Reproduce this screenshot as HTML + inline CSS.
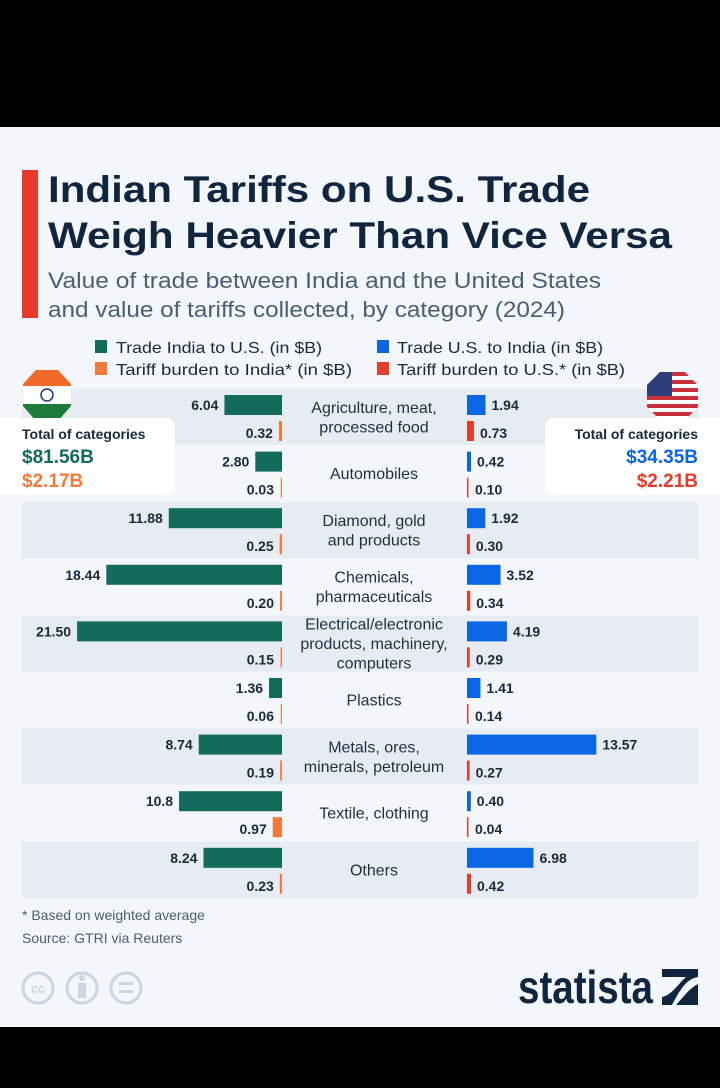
<!DOCTYPE html>
<html><head><meta charset="utf-8"><style>
body{margin:0;background:#000;}
svg{display:block;font-family:"Liberation Sans",sans-serif;}
</style></head><body>
<svg id="chart" width="720" height="1088" viewBox="0 0 720 1088">
<rect x="0" y="0" width="720" height="1088" fill="#000"/>
<rect x="0" y="127" width="720" height="900" fill="#f3f6fa"/>
<rect x="22" y="170" width="16" height="148" fill="#e8392b"/>
<text x="48" y="202" font-size="37" font-weight="bold" fill="#10263f" textLength="542" lengthAdjust="spacingAndGlyphs">Indian Tariffs on U.S. Trade</text>
<text x="48" y="248" font-size="37" font-weight="bold" fill="#10263f" textLength="624" lengthAdjust="spacingAndGlyphs">Weigh Heavier Than Vice Versa</text>
<text x="48" y="288" font-size="22" fill="#4b5e72" textLength="553" lengthAdjust="spacingAndGlyphs">Value of trade between India and the United States</text>
<text x="48" y="317" font-size="22" fill="#4b5e72" textLength="517" lengthAdjust="spacingAndGlyphs">and value of tariffs collected, by category (2024)</text>
<g font-size="16" fill="#1a2a3a">
<rect x="95" y="340" width="12" height="13" fill="#136b5e"/>
<text x="116" y="353" textLength="206" lengthAdjust="spacingAndGlyphs">Trade India to U.S. (in $B)</text>
<rect x="377" y="340" width="12" height="13" fill="#0b66e4"/>
<text x="397" y="353" textLength="206" lengthAdjust="spacingAndGlyphs">Trade U.S. to India (in $B)</text>
<rect x="95" y="362" width="12" height="13" fill="#f47a3a"/>
<text x="116" y="375" textLength="236" lengthAdjust="spacingAndGlyphs">Tariff burden to India* (in $B)</text>
<rect x="377" y="362" width="12" height="13" fill="#e43d2b"/>
<text x="397" y="375" textLength="228" lengthAdjust="spacingAndGlyphs">Tariff burden to U.S.* (in $B)</text>
</g>
<g id="rows"></g>
<g>
<clipPath id="oct1"><polygon points="36,370 58,370 71,384 71,406 58,421 36,421 23,406 23,384"/></clipPath>
<g clip-path="url(#oct1)"><rect x="20" y="368" width="55" height="18" fill="#f26a2a"/><rect x="20" y="386" width="55" height="18" fill="#fff"/><rect x="20" y="404" width="55" height="20" fill="#1c7a3a"/><circle cx="47" cy="395" r="6" fill="none" stroke="#1d3a8a" stroke-width="1.5"/></g>
</g>
<g>
<clipPath id="oct2"><polygon points="660,372 685,372 698,385 698,407 685,420 660,420 647,407 647,385"/></clipPath>
<g clip-path="url(#oct2)" id="usflag"><rect x="645" y="370" width="55" height="52" fill="#fff"/></g>
</g>
<g>
<rect x="-10" y="418" width="185" height="77" rx="8" fill="#fff"/>
<text x="22" y="439" font-size="14" font-weight="bold" fill="#1a2a3a">Total of  categories</text>
<text x="22" y="463" font-size="19" font-weight="bold" fill="#136b5e">$81.56B</text>
<text x="22" y="487" font-size="19" font-weight="bold" fill="#f47a3a">$2.17B</text>
</g>
<g>
<rect x="545" y="418" width="190" height="77" rx="8" fill="#fff"/>
<text x="698" y="439" font-size="14" font-weight="bold" fill="#1a2a3a" text-anchor="end">Total of  categories</text>
<text x="698" y="463" font-size="19" font-weight="bold" fill="#0b66e4" text-anchor="end">$34.35B</text>
<text x="698" y="487" font-size="19" font-weight="bold" fill="#e43d2b" text-anchor="end">$2.21B</text>
</g>
<text x="22" y="920" font-size="14" fill="#4b5e72">* Based on weighted average</text>
<text x="22" y="943" font-size="14" fill="#4b5e72">Source: GTRI via Reuters</text>
<g fill="none" stroke="#cdd5de" stroke-width="3">
<circle cx="38" cy="988" r="15"/><text x="38" y="993" font-size="13" font-weight="bold" fill="#cdd5de" stroke="none" text-anchor="middle">cc</text>
<circle cx="82" cy="988" r="15"/><circle cx="82" cy="978" r="3" fill="#cdd5de" stroke="none"/><rect x="78" y="983" width="8" height="15" fill="#cdd5de" stroke="none"/>
<circle cx="126" cy="988" r="15"/><rect x="119" y="982" width="14" height="3" fill="#cdd5de" stroke="none"/><rect x="119" y="990" width="14" height="3" fill="#cdd5de" stroke="none"/>
</g>
<g>
<text x="518" y="1003" font-size="46" font-weight="bold" fill="#10263f" textLength="135" lengthAdjust="spacingAndGlyphs">statista</text>
<path d="M662 969 H698 V977 C686 979 680 990 672 1005 H662 V997 C672 995 678 984 686 977 H662 Z M698 984 V1005 H676 C684 996 690 988 698 984 Z" fill="#10263f"/>
</g>
</svg>
<script>
const categories = [["Agriculture, meat,","processed food"],["Automobiles"],["Diamond, gold","and products"],["Chemicals,","pharmaceuticals"],["Electrical/electronic","products, machinery,","computers"],["Plastics"],["Metals, ores,","minerals, petroleum"],["Textile, clothing"],["Others"]];
const tradeIndia = [6.04, 2.80, 11.88, 18.44, 21.50, 1.36, 8.74, 10.8, 8.24];
const tradeIndiaLabels = ["6.04","2.80","11.88","18.44","21.50","1.36","8.74","10.8","8.24"];
const tariffIndia = [0.32, 0.03, 0.25, 0.20, 0.15, 0.06, 0.19, 0.97, 0.23];
const tradeUS = [1.94, 0.42, 1.92, 3.52, 4.19, 1.41, 13.57, 0.40, 6.98];
const tariffUS = [0.73, 0.10, 0.30, 0.34, 0.29, 0.14, 0.27, 0.04, 0.42];
const NS = "http://www.w3.org/2000/svg";
const g = document.getElementById("rows");
const scale = v => v * 9.53;
const leftAxis = 282, rightAxis = 467, top0 = 389, rowH = 56.6;
function mk(tag, attrs, text){const e=document.createElementNS(NS,tag);for(const k in attrs)e.setAttribute(k,attrs[k]);if(text!==undefined)e.textContent=text;g.appendChild(e);return e;}
categories.forEach((cat,i)=>{
  const y = top0 + i*rowH;
  if(i%2===0){const b=mk("rect",{x:22,y:y,width:676,height:56,fill:"#e7ecf3"});
    
    }
  const wT = Math.max(scale(tradeIndia[i]),1);
  const r1=mk("rect",{x:leftAxis-wT,y:y+6,width:wT,height:20,fill:"#136b5e"});
  
  
  const t1=mk("text",{x:leftAxis-wT-6,y:y+21,"font-size":14,"font-weight":"bold",fill:"#1a2a3a","text-anchor":"end"},tradeIndiaLabels[i]);
  
  
  const wt = Math.max(scale(tariffIndia[i]),1.2);
  const r2=mk("rect",{x:leftAxis-wt,y:y+32,width:wt,height:20,fill:"#f47a3a"});
  
  
  const t2=mk("text",{x:leftAxis-Math.max(wt,2)-6,y:y+49,"font-size":14,"font-weight":"bold",fill:"#1a2a3a","text-anchor":"end"},tariffIndia[i].toFixed(2));
  
  
  const wU = Math.max(scale(tradeUS[i]),1.5);
  const r3=mk("rect",{x:rightAxis,y:y+6,width:wU,height:20,fill:"#0b66e4"});
  
  
  const t3=mk("text",{x:rightAxis+wU+6,y:y+21,"font-size":14,"font-weight":"bold",fill:"#1a2a3a"},tradeUS[i].toFixed(2));
  
  
  const wu = Math.max(scale(tariffUS[i]),1.2);
  const r4=mk("rect",{x:rightAxis,y:y+32,width:Math.max(wu,1.5),height:20,fill:"#e43d2b"});
  
  
  const t4=mk("text",{x:rightAxis+Math.max(wu,2)+6,y:y+49,"font-size":14,"font-weight":"bold",fill:"#1a2a3a"},tariffUS[i].toFixed(2));
  
  
  const n=cat.length, lh=19.5, cy=y+28;
  cat.forEach((line,j)=>{
    const c=mk("text",{x:374,y:cy-(n-1)*lh/2+j*lh+5.5,"font-size":16,fill:"#1f2f40","text-anchor":"middle"},line);
    
    
  });
});
const us=document.getElementById("usflag");
for(let k=0;k<13;k++){const s=document.createElementNS(NS,"rect");
  s.setAttribute("x",645);s.setAttribute("y",372+k*4);s.setAttribute("width",55);s.setAttribute("height",4);s.setAttribute("fill",k%2?"#fff":"#c8303a");
  us.appendChild(s);}
const cant=document.createElementNS(NS,"rect");
cant.setAttribute("x",645);cant.setAttribute("y",372);cant.setAttribute("width",27);cant.setAttribute("height",24);cant.setAttribute("fill","#2f3e7a");
us.appendChild(cant);
</script>
</body></html>
